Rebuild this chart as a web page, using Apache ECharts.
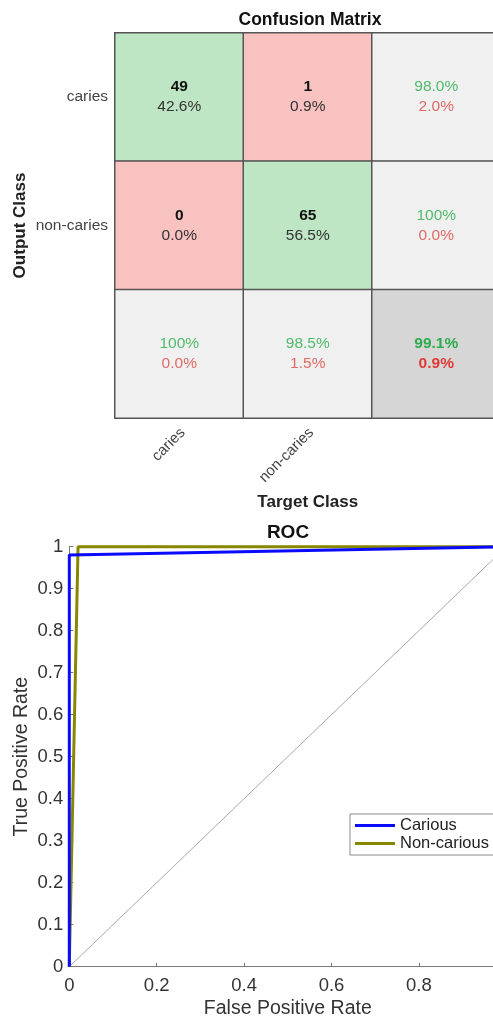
<!DOCTYPE html>
<html>
<head>
<meta charset="utf-8">
<script src="https://cdn.jsdelivr.net/npm/echarts@6/dist/echarts.min.js"></script>
<style>
  html, body { margin: 0; padding: 0; background: #fff; }
  #chart { width: 493px; height: 1017px; }
</style>
</head>
<body>
<div id="chart"></div>
<script>
// Confusion matrix data (rows = output class, columns = target class)
const classes = ['caries', 'non-caries'];
const counts = [[49, 1], [0, 65]];
const cellPct = [['42.6%', '0.9%'], ['0.0%', '56.5%']];
const rowCorrect = ['98.0%', '100%'];
const rowWrong = ['2.0%', '0.0%'];
const colCorrect = ['100%', '98.5%'];
const colWrong = ['0.0%', '1.5%'];
const overallCorrect = '99.1%';
const overallWrong = '0.9%';

// ROC curves: [false positive rate, true positive rate]
const rocCarious = [[0, 0], [0, 0.98], [1, 1]];
const rocNonCarious = [[0, 0], [0.02, 1], [1, 1]];
const chanceLine = [[0, 0], [1, 1]];
const seriesNames = ['Carious', 'Non-carious'];

const FONT = 'Liberation Sans, Arial, Helvetica, sans-serif';
const GREEN_CELL = '#bfe6c4', RED_CELL = '#f8c2c1', GREY_CELL = '#f0f0f0', TOTAL_CELL = '#d6d6d6';

const xCats = classes.concat(['']);
const yCats = classes.concat(['']);

// Build heatmap items for the 3x3 grid
const cells = [];
for (let r = 0; r < 2; r++) {
  for (let c = 0; c < 2; c++) {
    cells.push({
      value: [c, r, counts[r][c]],
      kind: 'count', pct: cellPct[r][c],
      itemStyle: { color: r === c ? GREEN_CELL : RED_CELL }
    });
  }
  cells.push({ value: [2, r, 0], kind: 'rate', good: rowCorrect[r], bad: rowWrong[r], itemStyle: { color: GREY_CELL } });
}
for (let c = 0; c < 2; c++) {
  cells.push({ value: [c, 2, 0], kind: 'rate', good: colCorrect[c], bad: colWrong[c], itemStyle: { color: GREY_CELL } });
}
cells.push({ value: [2, 2, 0], kind: 'total', good: overallCorrect, bad: overallWrong, itemStyle: { color: TOTAL_CELL } });

const chart = echarts.init(document.getElementById('chart'), null, { renderer: 'canvas' });

const CELL_FS = 15.5;
chart.setOption({
  backgroundColor: '#ffffff',
  animation: false,
  textStyle: { fontFamily: FONT },
  graphic: [
    { type: 'text', position: [310, 20], style: { text: 'Confusion Matrix', textAlign: 'center', textVerticalAlign: 'middle', font: 'bold 17.5px ' + FONT, fill: '#111' } },
    { type: 'text', position: [288, 533], style: { text: 'ROC', textAlign: 'center', textVerticalAlign: 'middle', font: 'bold 19px ' + FONT, fill: '#111' } }
  ],
  grid: [
    { left: 115, top: 33, width: 385.5, height: 385, outerBoundsMode: 'none', containLabel: false },
    { left: 69.3, top: 546.7, width: 437, height: 420, outerBoundsMode: 'none', containLabel: false }
  ],
  xAxis: [
    {
      gridIndex: 0, type: 'category', data: xCats, position: 'bottom',
      axisLine: { show: false }, axisTick: { show: false },
      axisLabel: { rotate: 45, margin: 16, fontSize: 15, color: '#444', fontFamily: FONT, padding: [0, -5, 0, 0] },
      name: 'Target Class', nameLocation: 'middle', nameGap: 76, nameMoveOverlap: false,
      nameTextStyle: { fontSize: 17, fontWeight: 'bold', color: '#222', fontFamily: FONT }
    },
    {
      gridIndex: 1, type: 'value', min: 0, max: 1, interval: 0.2,
      axisLine: { lineStyle: { color: '#7a7a7a', width: 1 } },
      axisTick: { inside: true, length: 4, lineStyle: { color: '#7a7a7a' } },
      splitLine: { show: false },
      axisLabel: { fontSize: 18.5, color: '#333', margin: 10, fontFamily: FONT },
      name: 'False Positive Rate', nameLocation: 'middle', nameGap: 32, nameMoveOverlap: false,
      nameTextStyle: { fontSize: 19.5, color: '#333', fontFamily: FONT }
    }
  ],
  yAxis: [
    {
      gridIndex: 0, type: 'category', data: yCats, inverse: true,
      axisLine: { show: false }, axisTick: { show: false },
      axisLabel: { margin: 7, fontSize: 15.5, color: '#444', fontFamily: FONT },
      name: 'Output Class', nameLocation: 'middle', nameGap: 86, nameRotate: 90, nameMoveOverlap: false,
      nameTextStyle: { fontSize: 17, fontWeight: 'bold', color: '#222', fontFamily: FONT }
    },
    {
      gridIndex: 1, type: 'value', min: 0, max: 1, interval: 0.1,
      axisLine: { show: true, lineStyle: { color: '#7a7a7a', width: 1 } },
      axisTick: { show: true, inside: true, length: 4, lineStyle: { color: '#7a7a7a' } },
      splitLine: { show: false },
      axisLabel: { fontSize: 18.5, color: '#333', margin: 6, fontFamily: FONT },
      name: 'True Positive Rate', nameLocation: 'middle', nameGap: 38, nameRotate: 90, nameMoveOverlap: false,
      nameTextStyle: { fontSize: 19.5, color: '#333', fontFamily: FONT }
    }
  ],
  legend: {
    data: seriesNames,
    orient: 'vertical', left: 350, top: 814,
    backgroundColor: '#fff', borderColor: '#8a8a8a', borderWidth: 1, borderRadius: 0,
    padding: [3, 12, 3, 5], itemGap: 1,
    icon: 'rect', itemWidth: 40, itemHeight: 3,
    textStyle: { fontSize: 16.5, color: '#222', fontFamily: FONT }
  },
  series: [
    {
      type: 'heatmap', xAxisIndex: 0, yAxisIndex: 0, data: cells,
      itemStyle: { borderColor: '#555', borderWidth: 1.5 },
      label: {
        show: true, fontFamily: FONT, lineHeight: 20,
        formatter: function (p) {
          const d = p.data;
          if (d.kind === 'count') return '{n|' + d.value[2] + '}\n{p|' + d.pct + '}';
          if (d.kind === 'total') return '{gb|' + d.good + '}\n{rb|' + d.bad + '}';
          return '{g|' + d.good + '}\n{r|' + d.bad + '}';
        },
        rich: {
          n: { fontSize: CELL_FS, fontWeight: 'bold', color: '#111', lineHeight: 20, fontFamily: FONT },
          p: { fontSize: CELL_FS, color: '#333', lineHeight: 20, fontFamily: FONT },
          g: { fontSize: CELL_FS, color: '#4fba6a', lineHeight: 20, fontFamily: FONT },
          r: { fontSize: CELL_FS, color: '#e06a65', lineHeight: 20, fontFamily: FONT },
          gb: { fontSize: CELL_FS, fontWeight: 'bold', color: '#2eac4c', lineHeight: 20, fontFamily: FONT },
          rb: { fontSize: CELL_FS, fontWeight: 'bold', color: '#e03a35', lineHeight: 20, fontFamily: FONT }
        }
      },
      emphasis: { disabled: true }
    },
    {
      type: 'line', xAxisIndex: 1, yAxisIndex: 1, data: chanceLine,
      symbol: 'none', silent: true, clip: false,
      lineStyle: { color: '#a8a8a8', width: 1 }
    },
    {
      name: seriesNames[1], type: 'line', xAxisIndex: 1, yAxisIndex: 1, data: rocNonCarious,
      symbol: 'none', clip: false, color: '#878700',
      lineStyle: { color: '#878700', width: 3 }
    },
    {
      name: seriesNames[0], type: 'line', xAxisIndex: 1, yAxisIndex: 1, data: rocCarious,
      symbol: 'none', clip: false, color: '#0a0aff',
      lineStyle: { color: '#0a0aff', width: 3 }
    }
  ]
});
</script>
</body>
</html>
